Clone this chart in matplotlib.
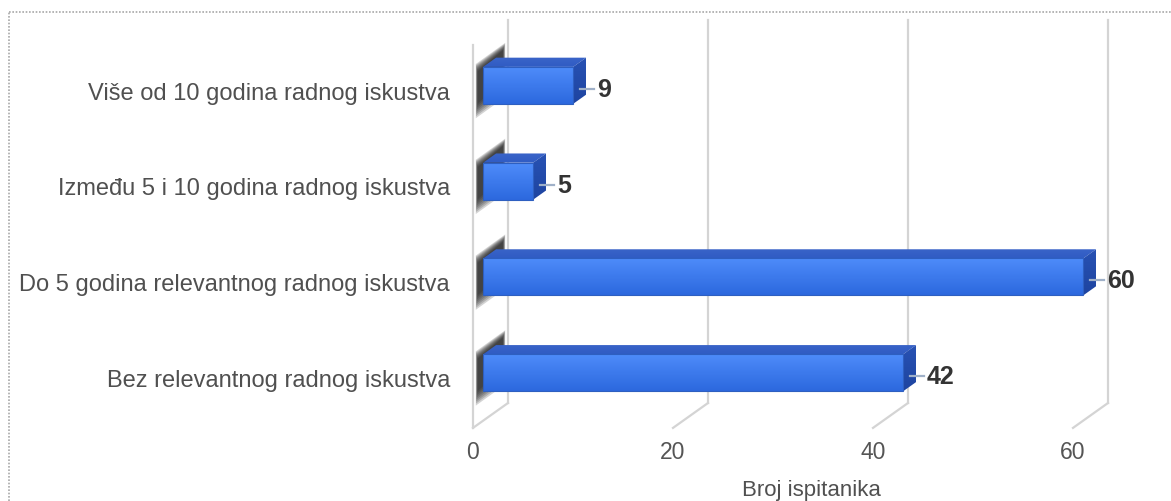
import numpy as np
import matplotlib
matplotlib.use('Agg')
import matplotlib.pyplot as plt
from matplotlib.patches import Polygon
from matplotlib.lines import Line2D

matplotlib.rcParams['font.family'] = ['Liberation Sans', 'DejaVu Sans']

# Dados do gráfico (de baixo para cima)
categorias = ['Bez relevantnog radnog iskustva',
              'Do 5 godina relevantnog radnog iskustva',
              'Između 5 i 10 godina radnog iskustva',
              'Više od 10 godina radnog iskustva']
valores = [42, 60, 5, 9]
ticks_x = [0, 20, 40, 60]
rotulo_x = 'Broj ispitanika'

# Geometria do efeito 3D (profundidade da caixa e da barra)
DX, DY = 3.5, 0.26        # deslocamento da parede de trás
F1, F2 = 0.29, 0.66       # início / fim da barra em profundidade
ALT = 0.386               # altura da face frontal da barra
Y0, Y1 = -0.5, 3.5        # chão e topo da caixa

fig = plt.figure(figsize=(11.71, 5.02), dpi=100)
ax = fig.add_axes([0, 0, 1, 1])


def face_gradiente(pts, cor_topo, cor_base, z=3):
    # desenha um polígono preenchido com gradiente vertical
    pts = np.array(pts)
    poly = Polygon(pts, closed=True, facecolor='none', edgecolor='none', zorder=z)
    ax.add_patch(poly)
    grad = np.linspace(0, 1, 64)[:, None, None]
    c1 = np.array(cor_topo)[None, None, :] / 255
    c2 = np.array(cor_base)[None, None, :] / 255
    img = c1 * (1 - grad) + c2 * grad
    x0, x1 = pts[:, 0].min(), pts[:, 0].max()
    y0, y1 = pts[:, 1].min(), pts[:, 1].max()
    im = ax.imshow(img, extent=(x0, x1, y0, y1), origin='upper', aspect='auto',
                   zorder=z, interpolation='bilinear')
    im.set_clip_path(poly)


# Grade: paredes e linhas de fundo
cor_grade = '#d4d4d4'
for t in ticks_x:
    ax.add_line(Line2D([t + DX, t + DX], [Y0 + DY, Y1 + DY], color=cor_grade, lw=1.6, zorder=1))
    ax.add_line(Line2D([t, t + DX], [Y0, Y0 + DY], color=cor_grade, lw=1.6, zorder=1))
ax.add_line(Line2D([0, 0], [Y0, Y1], color=cor_grade, lw=1.6, zorder=1))

# Barras
for i, (cat, v) in enumerate(zip(categorias, valores)):
    yc = i + F1 * DY
    yb, yt = yc - ALT / 2, yc + ALT / 2
    xa, xb = F1 * DX, v + F1 * DX
    ddx, ddy = (F2 - F1) * DX, (F2 - F1) * DY

    # sombra na parede esquerda (camadas para imitar desfoque)
    for k in range(8):
        e = 0.022 * k
        sombra = [(0.08 * DX + e * 1.2, yb - 0.15 + e),
                  (0.08 * DX + e * 1.2, yt + 0.03 - e * 0.5),
                  (0.92 * DX - e * 1.5, yt + 0.03 + 0.85 * DY - e * 0.5),
                  (0.92 * DX - e * 1.5, yb - 0.15 + 0.85 * DY + e)]
        ax.add_patch(Polygon(sombra, closed=True, facecolor='#1a1a1a', edgecolor='none',
                             alpha=0.19, zorder=2))

    # face superior e lateral
    face_gradiente([(xa, yt), (xb, yt), (xb + ddx, yt + ddy), (xa + ddx, yt + ddy)],
                   (58, 100, 200), (48, 92, 196), z=3)
    face_gradiente([(xb, yb), (xb, yt), (xb + ddx, yt + ddy), (xb + ddx, yb + ddy)],
                   (40, 82, 180), (30, 68, 160), z=3)
    # face frontal
    face_gradiente([(xa, yb), (xb, yb), (xb, yt), (xa, yt)],
                   (78, 140, 250), (44, 104, 222), z=4)
    ax.add_patch(Polygon([(xa, yb), (xb, yb), (xb, yt), (xa, yt)], closed=True,
                         facecolor='none', edgecolor='#2e5fc0', lw=0.8, zorder=5))

    # linha guia e rótulo do valor
    ys = i + 0.04
    ax.add_line(Line2D([xb + ddx / 2, xb + ddx + 0.8], [ys, ys],
                       color='#9fb0c8', lw=1.6, zorder=5))
    ax.text(xb + ddx + 1.1, ys, str(v), ha='left', va='center',
            fontsize=18, fontweight='bold', color='#333333', zorder=6)

    # rótulo da categoria
    ax.text(-2.3, i, cat, ha='right', va='center', fontsize=17, color='#505050')

# Rótulos do eixo x
for t in ticks_x:
    ax.text(t, -0.75, str(t), ha='center', va='center', fontsize=16.5, color='#555555')
ax.text(33.8, -1.14, rotulo_x, ha='center', va='center', fontsize=16, color='#505050')

ax.set_xlim(-47.3, 69.8)
ax.set_ylim(-1.263, 3.977)
ax.axis('off')

# Moldura pontilhada
fig.add_artist(Line2D([9 / 1171, 1], [1 - 12.5 / 502, 1 - 12.5 / 502], transform=fig.transFigure,
                      color='#a8a8a8', lw=1.2, ls=(0, (1, 1))))
fig.add_artist(Line2D([9 / 1171, 9 / 1171], [0, 1 - 12.5 / 502], transform=fig.transFigure,
                      color='#a8a8a8', lw=1.2, ls=(0, (1, 1))))

plt.savefig('out.png', dpi=100)
